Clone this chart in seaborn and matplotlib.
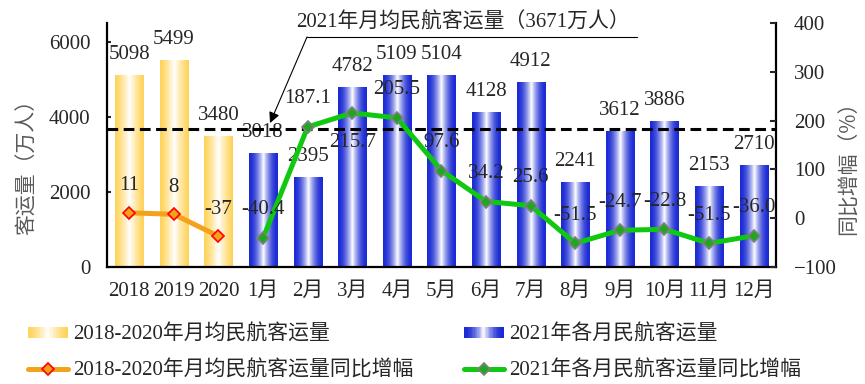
import numpy as np
import pandas as pd
import matplotlib
matplotlib.use('Agg')
import matplotlib.pyplot as plt
import seaborn as sns
from matplotlib.colors import to_rgb
from matplotlib.legend_handler import HandlerBase
from matplotlib.patches import Rectangle
from matplotlib.lines import Line2D
from matplotlib.ticker import FixedLocator

# data
years = ['2018', '2019', '2020']
months = ['1月', '2月', '3月', '4月', '5月', '6月', '7月', '8月', '9月', '10月', '11月', '12月']
avg_traffic = [5098, 5499, 3480]
monthly_traffic = [3018, 2395, 4782, 5109, 5104, 4128, 4912, 2241, 3612, 3886, 2153, 2710]
avg_growth = [11, 8, -37]
monthly_growth = [-40.4, 187.1, 215.7, 205.5, 97.6, 34.2, 25.6, -51.5, -24.7, -22.8, -51.5, -36.0]
avg_2021 = 3671

lab_bar_avg = '2018-2020年月均民航客运量'
lab_bar_month = '2021年各月民航客运量'
lab_line_avg = '2018-2020年月均民航客运量同比增幅'
lab_line_month = '2021年各月民航客运量同比增幅'

yellow = '#FFD35A'
blue = '#1A2AD4'
orange = '#F4A11B'
green = '#11C811'

sns.set_style('white')
plt.rcParams['font.family'] = ['Liberation Serif', 'Noto Sans CJK SC']
plt.rcParams['font.size'] = 15

cats = years + months
df = pd.DataFrame({
    'cat': cats,
    'traffic': avg_traffic + monthly_traffic,
    'group': [lab_bar_avg] * len(years) + [lab_bar_month] * len(months),
})

fig = plt.figure(figsize=(8.65, 3.84), dpi=100)
ax = fig.add_axes([0.1237, 0.3047, 0.7734, 0.6354])

sns.barplot(data=df, x='cat', y='traffic', hue='group', order=cats, dodge=False,
            width=0.63, palette=[yellow, blue], legend=False, ax=ax)


def grad_rgb(edge, n, power):
    t = np.abs(np.linspace(-1, 1, n))
    w = (1 - t) ** power
    e = np.array(to_rgb(edge))
    return e[None, :] * (1 - w[:, None]) + w[:, None]


# replace flat bars by a white-centred gradient
for p in list(ax.patches):
    if p.get_height() <= 0:
        continue
    x0, y0, w, h = p.get_x(), p.get_y(), p.get_width(), p.get_height()
    is_avg = x0 + w / 2 < len(years) - 0.5
    cols = grad_rgb(yellow, 64, 1.3) if is_avg else grad_rgb(blue, 64, 1.8)
    ax.imshow(cols[None, :, :], extent=[x0, x0 + w, y0, y0 + h], aspect='auto',
              interpolation='bilinear', zorder=2)
    p.set_visible(False)

for i, v in enumerate(df['traffic']):
    ax.annotate(f'{v}', xy=(i, v), xytext=(0, 21), textcoords='offset pixels',
                ha='center', va='center', fontsize=15)

ax.axhline(avg_2021, color='black', lw=2.2, ls=(0, (3.5, 1.8)), zorder=3)

ax.set_xlim(-0.5, len(cats) - 0.5)
ax.set_ylim(0, 6500)
ax.set_yticks([0, 2000, 4000, 6000])
ax.set_xlabel('')
ax.set_ylabel('客运量（万人）', color='#595959', fontsize=15, family='Noto Sans CJK SC')
ax.yaxis.set_label_coords(-0.103, 0.43)
ax.xaxis.set_minor_locator(FixedLocator(np.arange(0.5, len(cats) - 1, 1)))
ax.tick_params(axis='x', which='major', length=0, pad=11, labelsize=15)
ax.tick_params(axis='x', which='minor', direction='in', length=5, width=1.5, color='black')
ax.tick_params(axis='y', direction='in', length=3, width=1.5, pad=12, labelsize=15, left=True)
for s in ['left', 'bottom', 'right']:
    ax.spines[s].set_visible(True)
    ax.spines[s].set_linewidth(1.6)
    ax.spines[s].set_color('black')
ax.spines['top'].set_visible(False)

# growth lines on the right axis
ax2 = ax.twinx()
x_avg = np.arange(len(years))
x_month = np.arange(len(years), len(cats))
sns.lineplot(x=x_avg, y=avg_growth, ax=ax2, color=orange, lw=3.6, marker='D', ms=6.5,
             markerfacecolor=orange, markeredgecolor='red', markeredgewidth=1.2)
sns.lineplot(x=x_month, y=monthly_growth, ax=ax2, color=green, lw=3.6, marker='D', ms=6.5,
             markerfacecolor='#1FA81F', markeredgecolor='#7F7F7F', markeredgewidth=1.2)

for i, g in zip(x_avg, avg_growth):
    ax2.annotate(f'{g}', xy=(i, g), xytext=(0, 27), textcoords='offset pixels',
                 ha='center', va='center', fontsize=15)
for i, g in zip(x_month, monthly_growth):
    dy = -30 if g == max(monthly_growth) else 28
    ax2.annotate(f'{g:.1f}', xy=(i, g), xytext=(0, dy), textcoords='offset pixels',
                 ha='center', va='center', fontsize=15)

ax2.set_xlim(-0.5, len(cats) - 0.5)
ax2.set_ylim(-100, 400)
ax2.set_yticks([-100, 0, 100, 200, 300, 400])
ax2.set_ylabel('同比增幅（%）', color='#595959', fontsize=15, family='Noto Sans CJK SC',
               rotation=90)
ax2.yaxis.set_label_coords(1.092, 0.426)
ax2.tick_params(axis='y', direction='in', length=4.5, width=1.5, pad=13, labelsize=15, right=True)
for s in ax2.spines.values():
    s.set_visible(False)

# annotation for the 2021 monthly average
ax.text(0.532, 1.0, f'2021年月均民航客运量（{avg_2021}万人）', transform=ax.transAxes,
        ha='center', va='center', fontsize=15)
ax.plot([0.299, 0.792], [0.943, 0.943], transform=ax.transAxes, color='black', lw=0.8,
        clip_on=False)
ax.annotate('', xy=(0.2437, 0.59), xytext=(0.299, 0.943), xycoords='axes fraction',
            textcoords='axes fraction',
            arrowprops=dict(arrowstyle='-|>', color='black', lw=0.8, mutation_scale=16,
                            shrinkA=0, shrinkB=0), annotation_clip=False)


class GradientHandler(HandlerBase):
    def __init__(self, edge, power, **kw):
        super().__init__(**kw)
        self.edge = edge
        self.power = power

    def create_artists(self, legend, orig_handle, xdescent, ydescent, width, height,
                       fontsize, trans):
        n = 30
        cols = grad_rgb(self.edge, n, self.power)
        hh = height * 0.75
        y0 = -ydescent + (height - hh) / 2
        arts = []
        for k in range(n):
            arts.append(Rectangle((-xdescent + k * width / n, y0), width / n * 1.05, hh,
                                  facecolor=cols[k], edgecolor='none', transform=trans))
        return arts


h_bar_avg = Rectangle((0, 0), 1, 1)
h_bar_month = Rectangle((0, 0), 1, 1)
h_line_avg = Line2D([], [], color=orange, lw=3.6, marker='D', ms=6.5,
                    markerfacecolor=orange, markeredgecolor='red', markeredgewidth=1.2)
h_line_month = Line2D([], [], color=green, lw=3.6, marker='D', ms=6.5,
                      markerfacecolor='#1FA81F', markeredgecolor='#7F7F7F', markeredgewidth=1.2)

leg_kw = dict(loc='upper left', frameon=False, fontsize=15, handlelength=1.9,
              handletextpad=0.25, labelspacing=0.75, borderpad=0, borderaxespad=0)
fig.legend([h_bar_avg, h_line_avg], [lab_bar_avg, lab_line_avg],
           bbox_to_anchor=(28 / 865, 1 - 325 / 384),
           handler_map={h_bar_avg: GradientHandler(yellow, 1.3)}, **leg_kw)
fig.legend([h_bar_month, h_line_month], [lab_bar_month, lab_line_month],
           bbox_to_anchor=(464 / 865, 1 - 325 / 384),
           handler_map={h_bar_month: GradientHandler(blue, 1.8)}, **leg_kw)

fig.savefig('out.png', dpi=100)
